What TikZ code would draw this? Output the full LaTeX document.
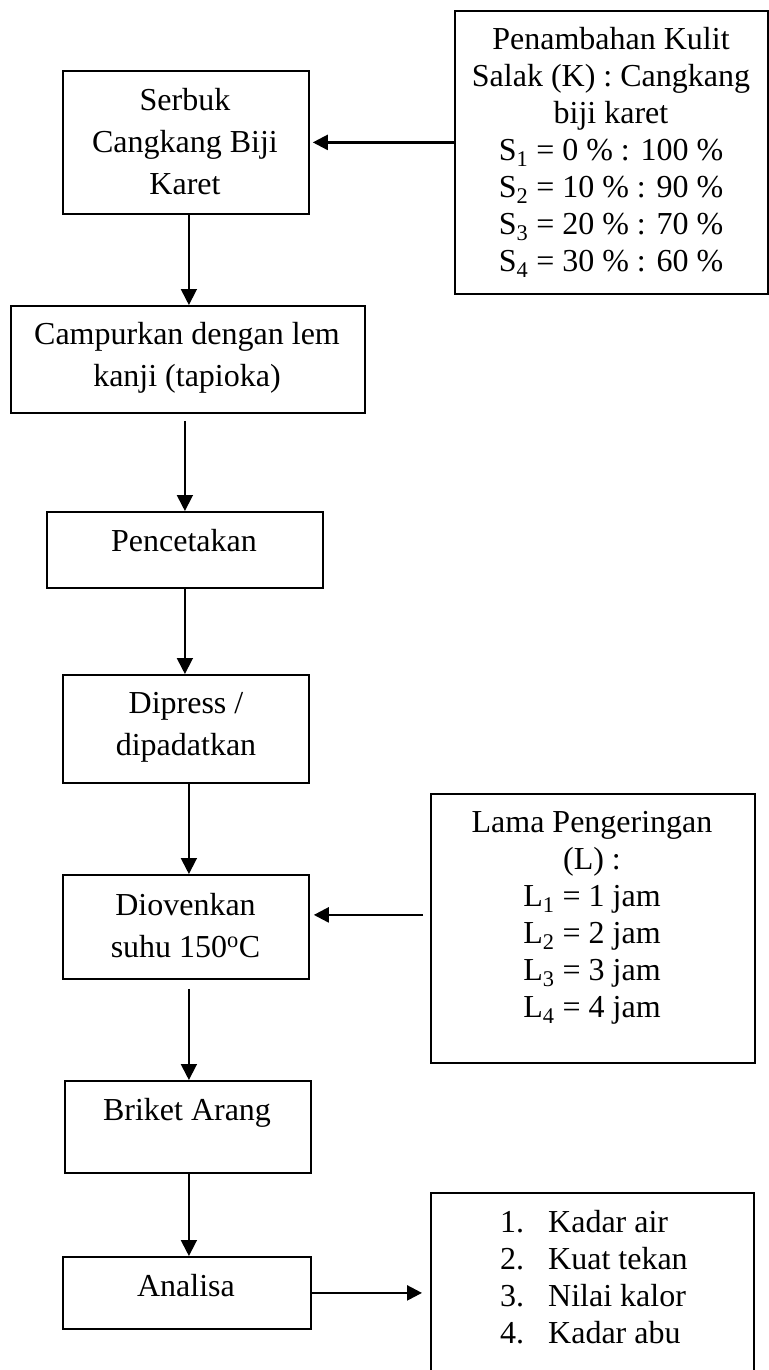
\documentclass[tikz,border=0pt]{standalone}
\usepackage{fontspec}
\setmainfont{Liberation Serif}
\usetikzlibrary{arrows.meta}
\begin{document}
\begin{tikzpicture}[x=1pt,y=-1pt,
  box/.style={draw, line width=1.8pt, inner sep=0pt, anchor=north west},
  lt/.style={inner sep=0pt, align=center, anchor=base, font=\fontsize{32}{42}\selectfont},
  rt/.style={inner sep=0pt, align=center, anchor=base, font=\fontsize{32}{37}\selectfont},
  lst/.style={inner sep=0pt, align=left, anchor=base west, font=\fontsize{32}{37}\selectfont},
  arr/.style={line width=1.8pt, -{Triangle[length=16pt,width=16pt]}},
  harr/.style={line width=2.4pt, -{Triangle[length=15pt,width=15pt]}},
]
\useasboundingbox (0,0) rectangle (768,1370);
% boxes
\node[box, minimum width=246pt, minimum height=143pt] (b1) at (62,70) {};
\node[box, minimum width=313pt, minimum height=283pt] (p)  at (454,10) {};
\node[box, minimum width=354pt, minimum height=107pt] (b2) at (10,305) {};
\node[box, minimum width=276pt, minimum height=76pt]  (b3) at (46,511) {};
\node[box, minimum width=246pt, minimum height=108pt] (b4) at (62,674) {};
\node[box, minimum width=246pt, minimum height=104pt] (b5) at (62,874) {};
\node[box, minimum width=324pt, minimum height=269pt] (l)  at (430,793) {};
\node[box, minimum width=246pt, minimum height=92pt]  (b6) at (64,1080) {};
\node[box, minimum width=248pt, minimum height=72pt]  (b7) at (62,1256) {};
\node[box, minimum width=323pt, minimum height=190pt] (r)  at (430,1192) {};
% texts (anchor = baseline of the last line)
\node[lt] (t1) at (185,194) {Serbuk\\Cangkang Biji\\Karet};
\node[rt] (tp) at (611,271) {Penambahan Kulit\\Salak (K) : Cangkang\\biji karet\\
  S\textsubscript{1} = 0 \% : 100 \%\\S\textsubscript{2} = 10 \% : 90 \%\\
  S\textsubscript{3} = 20 \% : 70 \%\\S\textsubscript{4} = 30 \% : 60 \%};
\node[lt] (t2) at (187,386) {Campurkan dengan lem\\kanji (tapioka)};
\node[lt] (t3) at (184,551) {Pencetakan};
\node[lt] (t4) at (186,755) {Dipress /\\dipadatkan};
\node[lt] (t5) at (185.5,957) {Diovenkan\\suhu 150\textsuperscript{o}C};
\node[rt] (tl) at (592,1017) {Lama Pengeringan\\(L) :\\L\textsubscript{1} = 1 jam\\
  L\textsubscript{2} = 2 jam\\L\textsubscript{3} = 3 jam\\L\textsubscript{4} = 4 jam};
\node[lt] (t6) at (187,1120) {Briket Arang};
\node[lt] (t7) at (186,1296) {Analisa};
\node[lst] (tr) at (500,1343) {\makebox[48pt][l]{1.}Kadar air\\\makebox[48pt][l]{2.}Kuat tekan\\
  \makebox[48pt][l]{3.}Nilai kalor\\\makebox[48pt][l]{4.}Kadar abu};
% connectors
\draw[harr, shorten >=3pt] (p.west |- b1.east) -- (b1.east);
\coordinate (a1) at ([xshift=3pt]b1.south);
\draw[arr] (a1) -- (a1 |- b2.north);
\coordinate (a2) at ([xshift=-3pt]b2.south);
\draw[arr, shorten <=7pt] (a2) -- (a2 |- b3.north);
\coordinate (a3) at (b3.south);
\draw[arr] (a3) -- (a3 |- b4.north);
\coordinate (a4) at ([xshift=3pt]b4.south);
\draw[arr] (a4) -- (a4 |- b5.north);
\coordinate (lw) at ([yshift=13.5pt]l.west);
\draw[harr, shorten <=7pt, shorten >=4pt] (lw) -- (lw -| b5.east);
\coordinate (a5) at ([xshift=3pt]b5.south);
\draw[arr, shorten <=9pt] (a5) -- (a5 |- b6.north);
\coordinate (a6) at ([xshift=1pt]b6.south);
\draw[arr] (a6) -- (a6 |- b7.north);
\draw[harr, shorten >=8pt] (b7.east) -- (b7.east -| r.west);
\end{tikzpicture}
\end{document}
